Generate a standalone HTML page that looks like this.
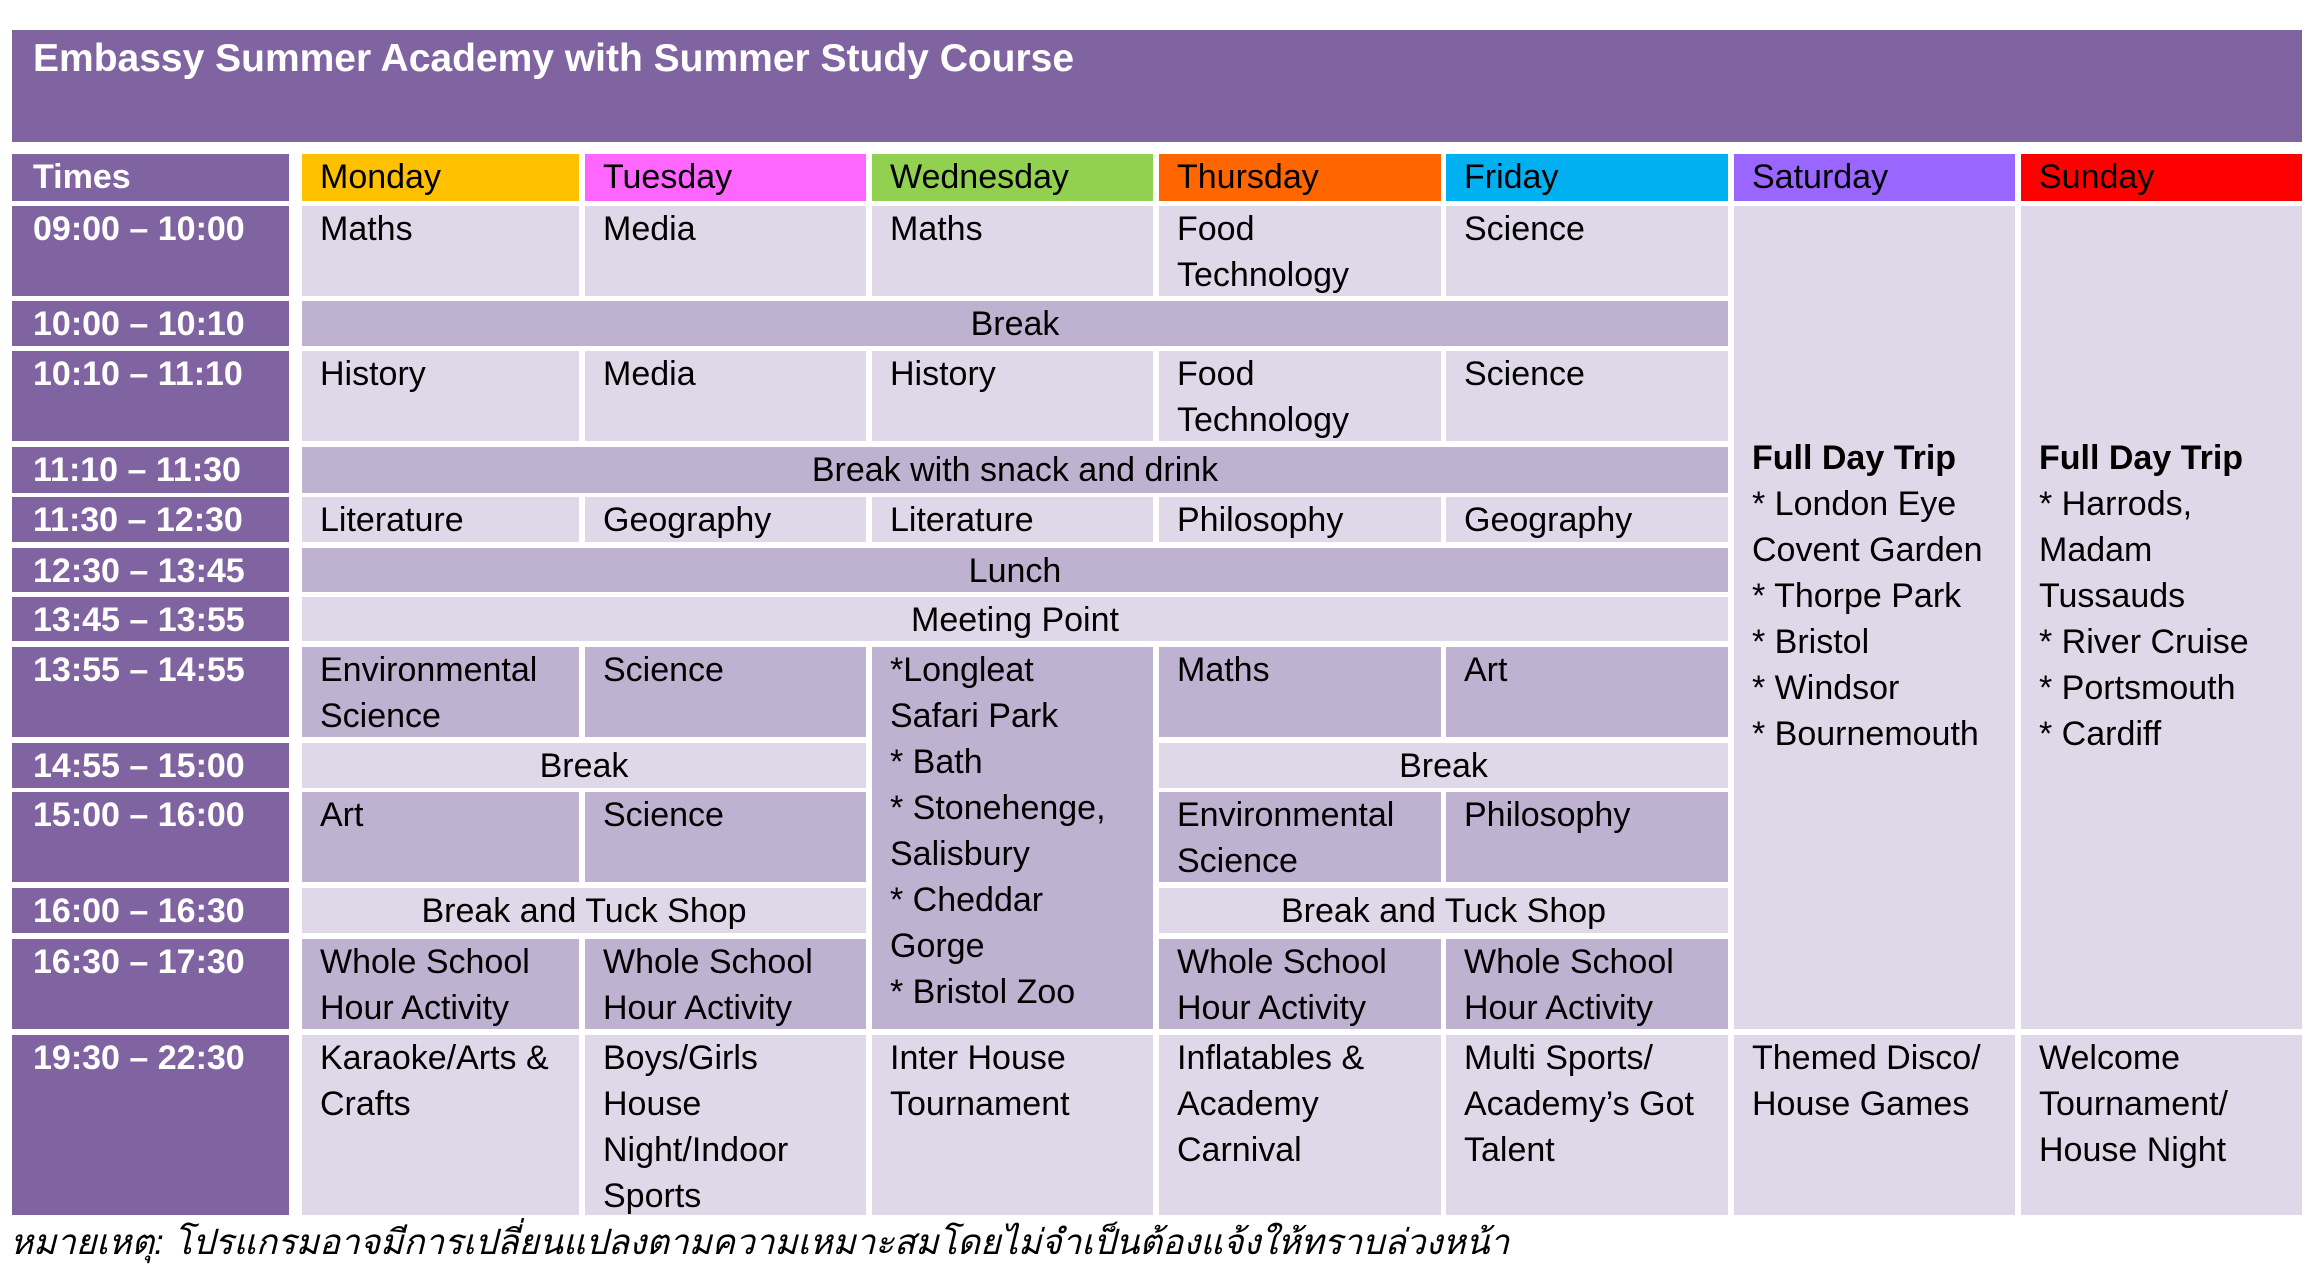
<!DOCTYPE html>
<html><head><meta charset="utf-8"><style>
body{margin:0;width:2321px;height:1277px;background:#fff;position:relative;overflow:hidden;font-family:"Liberation Sans","DejaVu Sans",sans-serif;}
.c{position:absolute;box-sizing:border-box;font-size:34px;line-height:46px;color:#000;padding:0 0 0 18px;white-space:nowrap;}
.p{background:#8064a2;color:#fff;font-weight:bold;padding-left:21px;}
.l{background:#dfd8e8;}
.m{background:#bfb1d0;}
.ctr{text-align:center;padding-left:0;}
</style></head><body>
<div class="c p" style="left:12px;top:30px;width:2290px;height:112px;font-size:39px;line-height:50px;padding-top:4px;">Embassy Summer Academy with Summer Study Course</div>

<div class="c p" style="left:12px;top:154px;width:277px;height:47px;">Times</div>
<div class="c" style="left:302px;top:154px;width:277px;height:47px;background:#ffc000">Monday</div>
<div class="c" style="left:585px;top:154px;width:281px;height:47px;background:#ff66ff">Tuesday</div>
<div class="c" style="left:872px;top:154px;width:281px;height:47px;background:#92d050">Wednesday</div>
<div class="c" style="left:1159px;top:154px;width:282px;height:47px;background:#ff6600">Thursday</div>
<div class="c" style="left:1446px;top:154px;width:282px;height:47px;background:#00b0f0">Friday</div>
<div class="c" style="left:1734px;top:154px;width:281px;height:47px;background:#9966ff">Saturday</div>
<div class="c" style="left:2021px;top:154px;width:281px;height:47px;background:#ff0000">Sunday</div>

<div class="c p" style="left:12px;top:206px;width:277px;height:90px;">09:00 – 10:00</div>
<div class="c p" style="left:12px;top:301px;width:277px;height:45px;">10:00 – 10:10</div>
<div class="c p" style="left:12px;top:351px;width:277px;height:90px;">10:10 – 11:10</div>
<div class="c p" style="left:12px;top:447px;width:277px;height:46px;">11:10 – 11:30</div>
<div class="c p" style="left:12px;top:497px;width:277px;height:45px;">11:30 – 12:30</div>
<div class="c p" style="left:12px;top:548px;width:277px;height:44px;">12:30 – 13:45</div>
<div class="c p" style="left:12px;top:597px;width:277px;height:44px;">13:45 – 13:55</div>
<div class="c p" style="left:12px;top:647px;width:277px;height:90px;">13:55 – 14:55</div>
<div class="c p" style="left:12px;top:743px;width:277px;height:45px;">14:55 – 15:00</div>
<div class="c p" style="left:12px;top:792px;width:277px;height:90px;">15:00 – 16:00</div>
<div class="c p" style="left:12px;top:888px;width:277px;height:45px;">16:00 – 16:30</div>
<div class="c p" style="left:12px;top:939px;width:277px;height:90px;">16:30 – 17:30</div>
<div class="c p" style="left:12px;top:1035px;width:277px;height:180px;">19:30 – 22:30</div>

<div class="c l" style="left:302px;top:206px;width:277px;height:90px;">Maths</div>
<div class="c l" style="left:585px;top:206px;width:281px;height:90px;">Media</div>
<div class="c l" style="left:872px;top:206px;width:281px;height:90px;">Maths</div>
<div class="c l" style="left:1159px;top:206px;width:282px;height:90px;">Food<br>Technology</div>
<div class="c l" style="left:1446px;top:206px;width:282px;height:90px;">Science</div>
<div class="c m ctr" style="left:302px;top:301px;width:1426px;height:45px;">Break</div>
<div class="c l" style="left:302px;top:351px;width:277px;height:90px;">History</div>
<div class="c l" style="left:585px;top:351px;width:281px;height:90px;">Media</div>
<div class="c l" style="left:872px;top:351px;width:281px;height:90px;">History</div>
<div class="c l" style="left:1159px;top:351px;width:282px;height:90px;">Food<br>Technology</div>
<div class="c l" style="left:1446px;top:351px;width:282px;height:90px;">Science</div>
<div class="c m ctr" style="left:302px;top:447px;width:1426px;height:46px;">Break with snack and drink</div>
<div class="c l" style="left:302px;top:497px;width:277px;height:45px;">Literature</div>
<div class="c l" style="left:585px;top:497px;width:281px;height:45px;">Geography</div>
<div class="c l" style="left:872px;top:497px;width:281px;height:45px;">Literature</div>
<div class="c l" style="left:1159px;top:497px;width:282px;height:45px;">Philosophy</div>
<div class="c l" style="left:1446px;top:497px;width:282px;height:45px;">Geography</div>
<div class="c m ctr" style="left:302px;top:548px;width:1426px;height:44px;">Lunch</div>
<div class="c l ctr" style="left:302px;top:597px;width:1426px;height:44px;">Meeting Point</div>

<div class="c m" style="left:302px;top:647px;width:277px;height:90px;">Environmental<br>Science</div>
<div class="c m" style="left:585px;top:647px;width:281px;height:90px;">Science</div>
<div class="c m" style="left:872px;top:647px;width:281px;height:382px;">*Longleat<br>Safari Park<br>* Bath<br>* Stonehenge,<br>Salisbury<br>* Cheddar<br>Gorge<br>* Bristol Zoo</div>
<div class="c m" style="left:1159px;top:647px;width:282px;height:90px;">Maths</div>
<div class="c m" style="left:1446px;top:647px;width:282px;height:90px;">Art</div>
<div class="c l ctr" style="left:302px;top:743px;width:564px;height:45px;">Break</div>
<div class="c l ctr" style="left:1159px;top:743px;width:569px;height:45px;">Break</div>
<div class="c m" style="left:302px;top:792px;width:277px;height:90px;">Art</div>
<div class="c m" style="left:585px;top:792px;width:281px;height:90px;">Science</div>
<div class="c m" style="left:1159px;top:792px;width:282px;height:90px;">Environmental<br>Science</div>
<div class="c m" style="left:1446px;top:792px;width:282px;height:90px;">Philosophy</div>
<div class="c l ctr" style="left:302px;top:888px;width:564px;height:45px;">Break and Tuck Shop</div>
<div class="c l ctr" style="left:1159px;top:888px;width:569px;height:45px;">Break and Tuck Shop</div>
<div class="c m" style="left:302px;top:939px;width:277px;height:90px;">Whole School<br>Hour Activity</div>
<div class="c m" style="left:585px;top:939px;width:281px;height:90px;">Whole School<br>Hour Activity</div>
<div class="c m" style="left:1159px;top:939px;width:282px;height:90px;">Whole School<br>Hour Activity</div>
<div class="c m" style="left:1446px;top:939px;width:282px;height:90px;">Whole School<br>Hour Activity</div>

<div class="c l" style="left:1734px;top:206px;width:281px;height:823px;padding-top:229px;"><b>Full Day Trip</b><br>* London Eye<br>Covent Garden<br>* Thorpe Park<br>* Bristol<br>* Windsor<br>* Bournemouth</div>
<div class="c l" style="left:2021px;top:206px;width:281px;height:823px;padding-top:229px;"><b>Full Day Trip</b><br>* Harrods,<br>Madam<br>Tussauds<br>* River Cruise<br>* Portsmouth<br>* Cardiff</div>

<div class="c l" style="left:302px;top:1035px;width:277px;height:180px;">Karaoke/Arts &amp;<br>Crafts</div>
<div class="c l" style="left:585px;top:1035px;width:281px;height:180px;">Boys/Girls<br>House<br>Night/Indoor<br>Sports</div>
<div class="c l" style="left:872px;top:1035px;width:281px;height:180px;">Inter House<br>Tournament</div>
<div class="c l" style="left:1159px;top:1035px;width:282px;height:180px;">Inflatables &amp;<br>Academy<br>Carnival</div>
<div class="c l" style="left:1446px;top:1035px;width:282px;height:180px;">Multi Sports/<br>Academy’s Got<br>Talent</div>
<div class="c l" style="left:1734px;top:1035px;width:281px;height:180px;">Themed Disco/<br>House Games</div>
<div class="c l" style="left:2021px;top:1035px;width:281px;height:180px;">Welcome<br>Tournament/<br>House Night</div>

<div style="position:absolute;left:10px;top:1220px;font-size:35px;line-height:46px;font-style:italic;font-family:'Liberation Sans','Noto Sans CJK SC','DejaVu Sans',sans-serif;white-space:nowrap;">หมายเหตุ: โปรแกรมอาจมีการเปลี่ยนแปลงตามความเหมาะสมโดยไม่จำเป็นต้องแจ้งให้ทราบล่วงหน้า</div>
</body></html>
